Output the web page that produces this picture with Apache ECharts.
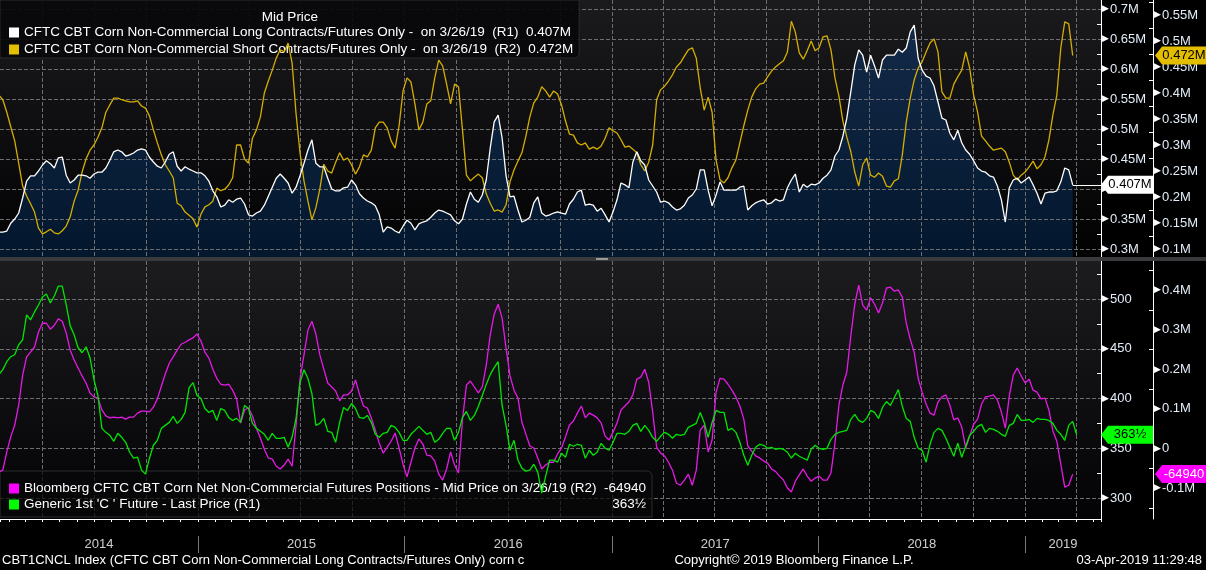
<!DOCTYPE html>
<html>
<head>
<meta charset="utf-8">
<script src="https://cdn.jsdelivr.net/npm/echarts@6/dist/echarts.min.js"></script>
<style>
html,body{margin:0;padding:0;background:#000;}
#chart{width:1206px;height:570px;}
</style>
</head>
<body>
<div id="chart"></div>
<script>
// ---------------- DATA (weekly, first observation 2014-01-14) ----------------
const firstWeek = '2014-01-14';
const axisStart = '2014-01-16';
const axisEnd = '2019-05-15';
const years = ['2014', '2015', '2016', '2017', '2018', '2019'];

const nameLong = 'CFTC CBT Corn Non-Commercial Long Contracts/Futures Only -';
const nameShort = 'CFTC CBT Corn Non-Commercial Short Contracts/Futures Only -';
const nameNet = 'Bloomberg CFTC CBT Corn Net Non-Commercial Futures Positions - Mid Price';
const nameCorn = "Generic 1st 'C ' Future - Last Price";

// Non-commercial long contracts (millions)  (R1, top)
const longContracts = [
0.328,0.328,0.330,0.343,0.350,0.360,0.385,0.413,0.422,0.422,
0.430,0.440,0.447,0.442,0.435,0.452,0.453,0.423,0.410,0.415,
0.423,0.423,0.422,0.418,0.425,0.428,0.428,0.435,0.448,0.462,
0.465,0.462,0.455,0.457,0.460,0.465,0.467,0.465,0.453,0.445,
0.438,0.435,0.445,0.458,0.462,0.438,0.430,0.437,0.433,0.430,
0.427,0.427,0.422,0.413,0.397,0.387,0.370,0.373,0.382,0.378,
0.383,0.385,0.375,0.357,0.355,0.360,0.363,0.373,0.388,0.403,
0.418,0.425,0.418,0.410,0.393,0.403,0.422,0.443,0.465,0.482,
0.443,0.437,0.437,0.418,0.400,0.397,0.397,0.402,0.403,0.415,
0.407,0.392,0.385,0.380,0.377,0.372,0.357,0.328,0.337,0.335,
0.330,0.327,0.338,0.348,0.343,0.332,0.342,0.345,0.347,0.353,
0.360,0.365,0.363,0.360,0.357,0.347,0.342,0.350,0.375,0.395,
0.383,0.378,0.390,0.415,0.468,0.512,0.523,0.485,0.422,0.387,
0.388,0.365,0.345,0.348,0.353,0.377,0.387,0.360,0.355,0.357,
0.360,0.362,0.360,0.358,0.375,0.383,0.395,0.398,0.373,0.375,
0.373,0.363,0.368,0.357,0.345,0.362,0.382,0.410,0.407,0.402,
0.445,0.462,0.447,0.440,0.415,0.405,0.395,0.378,0.380,0.377,
0.370,0.365,0.367,0.373,0.385,0.390,0.400,0.432,0.432,0.398,
0.372,0.390,0.412,0.398,0.398,0.398,0.398,0.403,0.405,0.365,
0.372,0.377,0.380,0.382,0.375,0.377,0.383,0.380,0.382,0.402,
0.415,0.425,0.395,0.408,0.403,0.408,0.407,0.410,0.418,0.423,
0.432,0.455,0.465,0.488,0.518,0.562,0.607,0.632,0.623,0.595,
0.623,0.605,0.585,0.615,0.623,0.623,0.623,0.633,0.628,0.635,
0.662,0.673,0.618,0.598,0.588,0.585,0.572,0.545,0.518,0.515,
0.493,0.482,0.498,0.477,0.465,0.458,0.447,0.435,0.430,0.428,
0.422,0.420,0.405,0.382,0.345,0.402,0.415,0.418,0.410,0.415,
0.420,0.407,0.393,0.375,0.393,0.395,0.395,0.397,0.412,0.435,
0.432,0.407
];

// Non-commercial short contracts (millions)  (R2, top)
const shortContracts = [
0.396,0.387,0.363,0.335,0.308,0.265,0.221,0.202,0.187,0.171,
0.140,0.129,0.133,0.138,0.131,0.129,0.135,0.144,0.162,0.192,
0.213,0.248,0.273,0.290,0.300,0.315,0.333,0.363,0.377,0.390,
0.390,0.387,0.385,0.383,0.383,0.385,0.375,0.371,0.356,0.329,
0.304,0.281,0.262,0.250,0.237,0.188,0.183,0.171,0.165,0.158,
0.142,0.167,0.181,0.185,0.192,0.217,0.212,0.215,0.223,0.237,
0.300,0.300,0.273,0.265,0.313,0.329,0.354,0.400,0.423,0.444,
0.467,0.483,0.479,0.496,0.458,0.360,0.285,0.231,0.192,0.156,
0.179,0.215,0.263,0.250,0.246,0.267,0.285,0.271,0.275,0.262,
0.244,0.258,0.281,0.277,0.290,0.333,0.344,0.344,0.333,0.308,
0.294,0.337,0.404,0.429,0.421,0.379,0.329,0.344,0.379,0.385,
0.429,0.463,0.452,0.417,0.379,0.417,0.412,0.329,0.242,0.231,
0.238,0.244,0.237,0.206,0.188,0.173,0.175,0.171,0.185,0.229,
0.252,0.269,0.285,0.317,0.354,0.381,0.392,0.412,0.404,0.392,
0.404,0.398,0.377,0.346,0.321,0.319,0.304,0.300,0.304,0.292,
0.296,0.292,0.298,0.313,0.333,0.327,0.323,0.310,0.296,0.298,
0.292,0.285,0.262,0.250,0.267,0.300,0.387,0.406,0.413,0.423,
0.435,0.450,0.458,0.471,0.483,0.487,0.467,0.410,0.367,0.392,
0.363,0.271,0.233,0.227,0.237,0.256,0.271,0.304,0.337,0.367,
0.392,0.408,0.417,0.419,0.431,0.442,0.450,0.456,0.462,0.479,
0.538,0.517,0.477,0.465,0.481,0.500,0.481,0.487,0.508,0.510,
0.483,0.429,0.394,0.346,0.315,0.287,0.248,0.221,0.262,0.275,
0.242,0.238,0.246,0.240,0.221,0.219,0.231,0.235,0.281,0.344,
0.390,0.425,0.448,0.460,0.479,0.496,0.504,0.479,0.402,0.390,
0.390,0.417,0.431,0.444,0.479,0.448,0.396,0.363,0.317,0.308,
0.298,0.290,0.292,0.294,0.287,0.267,0.242,0.233,0.242,0.248,
0.258,0.269,0.254,0.262,0.277,0.310,0.358,0.396,0.487,0.537,
0.533,0.472
];

// Generic 1st corn future, last price (cents/bu)  (R1, bottom) - one more week (2019-04-02)
const cornPrice = [
424,429,437,442,444,454,459,484,479,487,
494,502,505,496,503,513,513,494,473,464,
451,446,452,441,419,403,370,366,363,357,
365,361,356,346,340,341,328,324,340,353,
358,370,373,376,382,375,379,386,411,416,
403,400,390,386,388,378,390,388,381,378,
380,376,393,390,375,370,367,364,358,365,
360,360,361,351,361,380,416,429,420,405,
373,375,380,367,366,356,376,391,388,395,
390,381,380,383,376,364,361,365,366,373,
371,366,358,358,364,368,372,368,364,366,
356,359,365,370,370,358,366,381,387,378,
383,392,403,414,424,431,437,393,373,348,
358,338,330,327,328,334,326,305,322,338,
338,336,345,341,354,352,354,353,340,348,
343,346,355,350,348,356,365,365,364,367,
373,375,367,373,368,361,357,362,366,364,
360,364,363,364,371,373,375,386,376,361,
376,388,386,386,368,370,366,356,343,333,
343,351,354,353,350,351,349,350,349,346,
340,345,342,340,338,349,353,350,349,350,
359,364,366,367,368,379,384,378,376,380,
388,386,380,391,397,393,401,409,392,380,
377,361,350,348,336,354,366,370,368,360,
351,342,355,341,352,363,367,372,374,366,
370,369,367,364,362,373,375,384,378,378,
379,376,380,379,379,378,375,368,364,358,
373,377,363.5
];

// Net non-commercial futures positions (thousands of contracts)  (R2, bottom)
const netPositions = [
-60,-55,-9,29,59,109,185,231,243,256,
294,316,316,301,311,327,321,291,248,223,
203,183,165,140,130,127,97,82,77,79,
77,79,74,79,79,89,94,94,92,104,
125,157,188,215,231,248,263,268,274,279,
289,271,243,228,200,177,162,160,162,147,
125,64,97,102,82,51,26,-2,-24,-27,
-45,-52,-42,-27,-45,59,175,236,299,321,
289,236,200,165,155,145,120,135,135,145,
173,137,107,102,77,46,13,-12,3,18,
39,1,-40,-72,-35,1,24,11,-17,-19,
-32,-65,-80,-52,-9,-42,-62,72,160,170,
155,140,155,210,286,339,364,329,253,183,
147,127,66,36,6,1,-24,-52,-42,-35,
-35,-14,1,29,59,69,89,107,77,89,
84,77,64,31,21,41,64,97,107,117,
135,175,180,200,167,92,3,-12,-19,-35,
-55,-88,-93,-80,-65,-93,-55,46,59,-9,
21,142,177,175,162,147,130,107,74,6,
-7,-19,-24,-32,-37,-52,-58,-70,-80,-100,
-110,-83,-67,-52,-70,-83,-75,-70,-80,-80,
-62,13,109,160,193,284,364,412,362,349,
380,364,342,367,405,407,397,400,382,316,
276,243,177,142,112,89,84,117,130,135,
109,72,77,54,1,31,61,74,112,130,
132,135,122,92,51,132,185,203,183,165,
175,147,142,125,127,97,44,18,-40,-98,
-93,-64.94
];

// ---------------- helpers ----------------
const DAY = 86400000;
const FONT = "'Liberation Sans', Arial, sans-serif";
const toTs = s => Date.parse(s + 'T00:00:00Z');
const t0 = toTs(firstWeek);
const xMin = toTs(axisStart), xMax = toTs(axisEnd);
const dates = cornPrice.map((_, i) => t0 + i * 7 * DAY);
const pairs = vals => vals.map((v, i) => [dates[i], v]);

const lastIdx = longContracts.length - 1;
const asOfDate = new Date(dates[lastIdx]);
const asOf = (asOfDate.getUTCMonth() + 1) + '/' + asOfDate.getUTCDate() + '/' + String(asOfDate.getUTCFullYear()).slice(2);

const lastLong = longContracts[lastIdx];
const lastShort = shortContracts[lastIdx];
const lastNet = netPositions[lastIdx];
const lastCorn = cornPrice[cornPrice.length - 1];

const fmtM = v => parseFloat(v.toFixed(3)) + 'M';
const fmtK = v => v === 0 ? '0' : parseFloat((v / 1000).toFixed(2)) + 'M';
const fmtPrice = v => {
  const w = Math.floor(v), f = v - w;
  const fr = f === 0.5 ? '½' : f === 0.25 ? '¼' : f === 0.75 ? '¾' : '';
  return w + fr;
};
const longLabel = lastLong.toFixed(3) + 'M';
const shortLabel = lastShort.toFixed(3) + 'M';
const netLabel = String(Math.round(lastNet * 1000));
const cornLabel = fmtPrice(lastCorn);

// year separators and year label positions
const yearLines = years.map(y => Date.UTC(+y, 0, 1)).filter(t => t > xMin && t < xMax).map(t => ({ xAxis: t }));
const yearPoints = years.map(y => {
  const a = Math.max(xMin, Date.UTC(+y, 0, 1));
  const b = Math.min(xMax, Date.UTC(+y + 1, 0, 1));
  return [(a + b) / 2, 0.5, y];
});

const TAG = 'path://M0,9L7,0L52,0L52,18L7,18Z';
const gridLine = () => ({ color: '#6e6e72', type: 'dashed', width: 1 });

function rightAxis(grid, min, max, split, offset, fmt, showSplit, z) {
  return {
    type: 'value', gridIndex: grid, position: 'right', offset: offset,
    min: min, max: max, splitNumber: split, z: z || 0,
    axisLine: { show: true, lineStyle: { color: '#ffffff', width: 1 } },
    axisTick: { show: false, inside: true },
    minorTick: { show: true, splitNumber: 2, length: 4, lineStyle: { color: '#ffffff' } },
    axisLabel: {
      margin: 1, showMinLabel: false, showMaxLabel: false,
      formatter: v => '{a|▶}{t|' + fmt(v) + '}',
      rich: {
        a: { color: '#ffffff', fontSize: 9, fontFamily: 'DejaVu Sans', padding: [0, 1, 0, 0] },
        t: { color: '#e2ecf8', fontSize: 13, fontFamily: FONT }
      }
    },
    splitLine: { show: showSplit, showMinLine: false, showMaxLine: false, lineStyle: gridLine() }
  };
}

// quarterly vertical grid (time axis, no line / labels)
function quarterAxis(grid, z) {
  return {
    type: 'time', gridIndex: grid, min: xMin, max: xMax, z: z,
    minInterval: 91 * DAY, maxInterval: 91 * DAY,
    axisLine: { show: false }, axisTick: { show: false }, axisLabel: { show: false },
    splitLine: { show: true, showMinLine: false, showMaxLine: false, lineStyle: gridLine() }
  };
}

function tag(value, offsetX, bg, fg, text) {
  return {
    symbol: TAG, symbolSize: [52, 18], symbolKeepAspect: false,
    symbolOffset: [offsetX, 0], silent: true, z: 10,
    itemStyle: { color: bg },
    label: { show: true, position: 'inside', offset: [3, 0], color: fg, fontSize: 13, fontFamily: FONT, formatter: () => text },
    data: [{ coord: [xMax, value] }]
  };
}

const panelBg = (y, h, c0, c1) => ({
  type: 'rect', silent: true, z: -10, shape: { x: 0, y: y, width: 1101, height: h },
  style: { fill: { type: 'linear', x: 0, y: 0, x2: 0, y2: 1, colorStops: [{ offset: 0, color: c0 }, { offset: 1, color: c1 }] } }
});

const chart = echarts.init(document.getElementById('chart'), null, { renderer: 'canvas' });

const option = {
  backgroundColor: '#000000',
  useUTC: true,
  animation: false,
  textStyle: { fontFamily: FONT },
  graphic: [
    panelBg(0, 257, '#1b1b1e', '#020203'),
    panelBg(261, 258, '#1c1c1f', '#030305'),
    { type: 'rect', silent: true, z: 20, shape: { x: 0, y: 257, width: 1206, height: 4 }, style: { fill: '#3a3a3d' } },
    { type: 'rect', silent: true, z: 21, shape: { x: 596, y: 258, width: 12, height: 2 }, style: { fill: '#9a9a9a' } }
  ],
  title: [
    { text: 'Mid Price', left: 290, top: 10, textAlign: 'center', padding: 0, z: 8,
      textStyle: { color: '#ffffff', fontSize: 13.5, fontWeight: 'normal', fontFamily: FONT } },
    { text: 'CBT1CNCL Index (CFTC CBT Corn Non-Commercial Long Contracts/Futures Only) corn c', left: 2, top: 554, padding: 0,
      textStyle: { color: '#ffffff', fontSize: 13, fontWeight: 'normal', fontFamily: FONT } },
    { text: 'Copyright© 2019 Bloomberg Finance L.P.', left: 794, top: 554, textAlign: 'center', padding: 0,
      textStyle: { color: '#ffffff', fontSize: 13, fontWeight: 'normal', fontFamily: FONT } },
    { text: '03-Apr-2019 11:29:48', right: 4, top: 554, padding: 0,
      textStyle: { color: '#ffffff', fontSize: 13, fontWeight: 'normal', fontFamily: FONT } }
  ],
  legend: [
    {
      left: 0, top: 0, orient: 'vertical', selectedMode: false,
      itemWidth: 10, itemHeight: 10, itemGap: 2, icon: 'rect',
      padding: [25, 6, 1, 9],
      backgroundColor: 'rgba(9,9,11,0.93)', borderColor: '#2b2b2f', borderWidth: 1, borderRadius: [0, 0, 5, 0],
      data: [
        { name: nameLong, itemStyle: { color: '#ffffff' } },
        { name: nameShort, itemStyle: { color: '#e2c000' } }
      ],
      textStyle: { color: '#ffffff', fontSize: 13.5, fontFamily: FONT, lineHeight: 15 },
      formatter: n => n === nameLong
        ? n + '  on ' + asOf + '  (R1)  ' + longLabel
        : n + '  on ' + asOf + '  (R2)  ' + shortLabel
    },
    {
      left: 0, top: 471, orient: 'vertical', selectedMode: false,
      itemWidth: 10, itemHeight: 10, itemGap: 1, icon: 'rect',
      padding: [10, 6, 5, 9],
      backgroundColor: 'rgba(8,8,10,0.72)', borderColor: 'rgba(70,70,74,0.6)', borderWidth: 1, borderRadius: [0, 5, 0, 0],
      data: [
        { name: nameNet, itemStyle: { color: '#ff00ff' } },
        { name: nameCorn, itemStyle: { color: '#00ff00' } }
      ],
      textStyle: {
        color: '#ffffff', fontSize: 13.5, fontFamily: FONT, lineHeight: 15,
        rich: {
          n: { width: 580, color: '#ffffff', fontSize: 13.5, fontFamily: FONT },
          v: { width: 42, align: 'right', color: '#ffffff', fontSize: 13.5, fontFamily: FONT }
        }
      },
      formatter: n => n === nameNet
        ? '{n|' + n + ' on ' + asOf + ' (R2)}{v|' + netLabel + '}'
        : '{n|' + n + ' (R1)}{v|' + cornLabel + '}'
    }
  ],
  grid: [
    { left: 0, top: 0, width: 1101, height: 257, show: false },
    { left: 0, top: 261, width: 1101, height: 258, show: false },
    { left: 0, top: 536, width: 1101, height: 17, show: false }
  ],
  xAxis: [
    quarterAxis(0, 3),
    { type: 'time', gridIndex: 1, min: xMin, max: xMax, minInterval: 28 * DAY, maxInterval: 31 * DAY,
      axisLine: { show: true, onZero: false, lineStyle: { color: '#ffffff', width: 1 } },
      axisTick: { show: true, length: 3, lineStyle: { color: '#ffffff' } },
      axisLabel: { show: false }, splitLine: { show: false } },
    { type: 'time', gridIndex: 2, min: xMin, max: xMax, show: false },
    quarterAxis(1, 0)
  ],
  yAxis: [
    rightAxis(0, 0.2867, 0.715, 8, 0, fmtM, true, 3),
    rightAxis(0, 0.0846, 0.5788, 10, 52, fmtM, false, 3),
    rightAxis(1, 278.9, 538.2, 5, 0, v => String(v), true, 0),
    rightAxis(1, -178.3, 473.2, 6, 52, fmtK, false, 0),
    { type: 'value', gridIndex: 2, min: 0, max: 1, show: false }
  ],
  series: [
    { // filled area beneath the long-contracts line
      name: 'longArea', type: 'line', xAxisIndex: 0, yAxisIndex: 0, z: 1, silent: true,
      data: pairs(longContracts), showSymbol: false, symbol: 'none',
      lineStyle: { width: 0, opacity: 0 },
      areaStyle: { origin: 'start', color: { type: 'linear', x: 0, y: 0, x2: 0, y2: 1,
        colorStops: [{ offset: 0, color: '#10315c' }, { offset: 1, color: '#03203f' }] } }
    },
    {
      name: nameShort, type: 'line', xAxisIndex: 0, yAxisIndex: 1, z: 4,
      data: pairs(shortContracts), showSymbol: false, symbol: 'none',
      lineStyle: { color: '#d6ae00', width: 1.3 }, itemStyle: { color: '#d6ae00' },
      markPoint: tag(lastShort, 80, '#e3bd00', '#000000', shortLabel)
    },
    {
      name: nameLong, type: 'line', xAxisIndex: 0, yAxisIndex: 0, z: 5,
      data: pairs(longContracts), showSymbol: false, symbol: 'none',
      lineStyle: { color: '#ffffff', width: 1.3 }, itemStyle: { color: '#ffffff' },
      markLine: { silent: true, symbol: ['none', 'none'], label: { show: false },
        lineStyle: { color: '#ffffff', width: 1, type: 'solid' },
        data: [[{ coord: [dates[lastIdx], lastLong] }, { coord: [xMax, lastLong] }]] },
      markPoint: tag(lastLong, 26, '#ffffff', '#000000', longLabel)
    },
    {
      name: nameNet, type: 'line', xAxisIndex: 1, yAxisIndex: 3, z: 4,
      data: pairs(netPositions), showSymbol: false, symbol: 'none',
      lineStyle: { color: '#e619e6', width: 1.3 }, itemStyle: { color: '#e619e6' },
      markPoint: tag(lastNet, 80, '#ff00ff', '#ffffff', netLabel)
    },
    {
      name: nameCorn, type: 'line', xAxisIndex: 1, yAxisIndex: 2, z: 5,
      data: pairs(cornPrice), showSymbol: false, symbol: 'none',
      lineStyle: { color: '#00e600', width: 1.3 }, itemStyle: { color: '#00e600' },
      markPoint: tag(lastCorn, 26, '#00ff00', '#000000', cornLabel)
    },
    { // year labels & separators along the time axis
      name: 'years', type: 'scatter', xAxisIndex: 2, yAxisIndex: 4, silent: true,
      symbolSize: 1, itemStyle: { color: 'rgba(0,0,0,0)' },
      label: { show: true, position: 'inside', color: '#ffffff', fontSize: 13, fontFamily: FONT, formatter: p => p.value[2] },
      data: yearPoints,
      markLine: { silent: true, symbol: ['none', 'none'], label: { show: false },
        lineStyle: { color: '#77777b', width: 1, type: 'solid' }, data: yearLines }
    }
  ]
};
chart.setOption(option);
</script>
</body>
</html>
